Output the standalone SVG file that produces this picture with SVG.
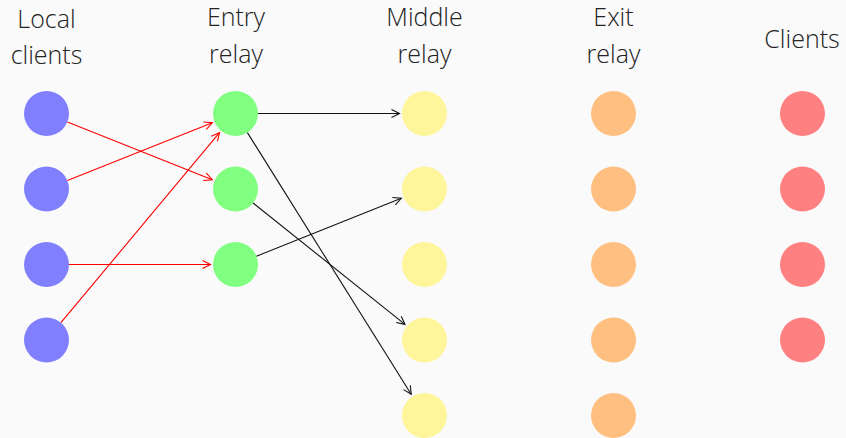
<svg xmlns="http://www.w3.org/2000/svg" width="846" height="438" viewBox="0 0 846 438">
<style>
text{font-family:"Open Sans","Liberation Sans",sans-serif;font-weight:300;font-size:25px;fill:#222;text-anchor:middle}
.b{fill:#8080ff}.g{fill:#80ff80}.y{fill:#fff59a}.o{fill:#ffbf80}.r{fill:#ff8080}
.er{stroke:#ff0000;stroke-width:1.1;fill:none;marker-end:url(#ar)}
.ek{stroke:#111;stroke-width:1.1;fill:none;marker-end:url(#ak)}
</style>
<defs>
<marker id="ar" markerUnits="userSpaceOnUse" markerWidth="12" markerHeight="12" viewBox="-10 -6 12 12" refX="0" refY="0" orient="auto"><path d="M-8,-4 L0,0 L-8,4" fill="none" stroke="#ff0000" stroke-width="1.1"/></marker>
<marker id="ak" markerUnits="userSpaceOnUse" markerWidth="12" markerHeight="12" viewBox="-10 -6 12 12" refX="0" refY="0" orient="auto"><path d="M-8,-4 L0,0 L-8,4" fill="none" stroke="#111" stroke-width="1.1"/></marker>
</defs>
<rect width="846" height="438" fill="#fafafa"/>
<g id="labels">
<text x="46.5" y="28">Local</text><text x="46.5" y="64">clients</text>
<text x="236" y="26">Entry</text><text x="236" y="62.5">relay</text>
<text x="424.5" y="26">Middle</text><text x="424.5" y="62.5">relay</text>
<text x="613.5" y="26">Exit</text><text x="613.5" y="62.5">relay</text>
<text x="802" y="47.5">Clients</text>
</g>
<g id="local1"><circle class="b" cx="46.5" cy="113.5" r="22.5"/></g>
<g id="local2"><circle class="b" cx="46.5" cy="189" r="22.5"/></g>
<g id="local3"><circle class="b" cx="46.5" cy="264.5" r="22.5"/></g>
<g id="local4"><circle class="b" cx="46.5" cy="340" r="22.5"/></g>
<g id="entry1"><circle class="g" cx="235.5" cy="113.5" r="22.5"/></g>
<g id="entry2"><circle class="g" cx="235.5" cy="189" r="22.5"/></g>
<g id="entry3"><circle class="g" cx="235.5" cy="264.5" r="22.5"/></g>
<g id="middle1"><circle class="y" cx="424.5" cy="113.5" r="22.5"/></g>
<g id="middle2"><circle class="y" cx="424.5" cy="189" r="22.5"/></g>
<g id="middle3"><circle class="y" cx="424.5" cy="264.5" r="22.5"/></g>
<g id="middle4"><circle class="y" cx="424.5" cy="340" r="22.5"/></g>
<g id="middle5"><circle class="y" cx="424.5" cy="415.5" r="22.5"/></g>
<g id="exit1"><circle class="o" cx="613.5" cy="113.5" r="22.5"/></g>
<g id="exit2"><circle class="o" cx="613.5" cy="189" r="22.5"/></g>
<g id="exit3"><circle class="o" cx="613.5" cy="264.5" r="22.5"/></g>
<g id="exit4"><circle class="o" cx="613.5" cy="340" r="22.5"/></g>
<g id="exit5"><circle class="o" cx="613.5" cy="415.5" r="22.5"/></g>
<g id="client1"><circle class="r" cx="802.5" cy="113.5" r="22.5"/></g>
<g id="client2"><circle class="r" cx="802.5" cy="189" r="22.5"/></g>
<g id="client3"><circle class="r" cx="802.5" cy="264.5" r="22.5"/></g>
<g id="client4"><circle class="r" cx="802.5" cy="340" r="22.5"/></g>
<g id="connectors">
<line class="er" x1="67.4" y1="121.9" x2="212.3" y2="179.7"/>
<line class="er" x1="67.4" y1="180.6" x2="212.3" y2="122.8"/>
<line class="er" x1="69" y1="264.5" x2="210.5" y2="264.5"/>
<line class="er" x1="60.9" y1="322.7" x2="219.5" y2="132.7"/>
<line class="ek" x1="258" y1="113.5" x2="399.5" y2="113.5"/>
<line class="ek" x1="247.4" y1="132.6" x2="411.2" y2="394.3"/>
<line class="ek" x1="253.1" y1="203" x2="405" y2="324.4"/>
<line class="ek" x1="256.4" y1="256.2" x2="401.3" y2="198.3"/>
</g>
</svg>
